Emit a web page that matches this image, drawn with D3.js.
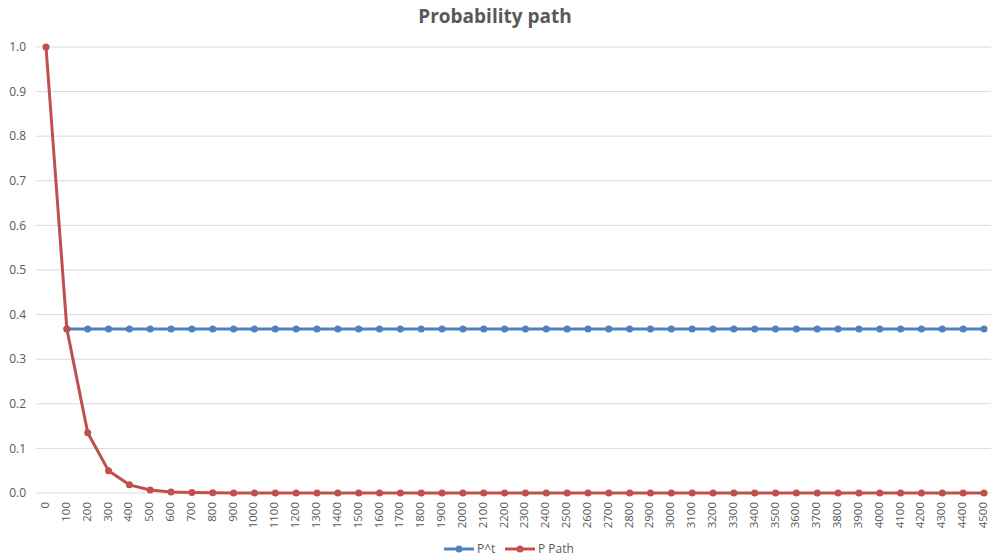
<!DOCTYPE html>
<html><head><meta charset="utf-8">
<script src="https://cdn.jsdelivr.net/npm/d3@7"></script>
<style>body{margin:0;background:#fff;}svg{display:block;}</style>
</head><body>
<svg id="c" width="991" height="560"></svg>
<script>
const categories = d3.range(0, 4501, 100).map(String);
const pT = [null].concat(Array(45).fill(0.3679));
const pPath = [1.0, 0.3679, 0.1353, 0.0498, 0.0183, 0.0067, 0.0025, 0.0009, 0.0003, 0.0001,
  0,0,0,0,0,0,0,0,0,0, 0,0,0,0,0,0,0,0,0,0, 0,0,0,0,0,0,0,0,0,0, 0,0,0,0,0,0];
const yTicks = [0,0.1,0.2,0.3,0.4,0.5,0.6,0.7,0.8,0.9,1.0];
const seriesNames = ["P^t", "P Path"];
const colors = ["#4F81BD", "#C0504D"];

const svg = d3.select("#c");
const font = "'Open Sans', 'Liberation Sans', sans-serif";
const x = d3.scalePoint().domain(categories).range([46, 984]);
const y = d3.scaleLinear().domain([0, 1]).range([493, 47]);

const g = svg.append("g");
g.selectAll("line.grid").data(yTicks).enter().append("line")
  .attr("x1", 36).attr("x2", 995)
  .attr("y1", d => y(d)).attr("y2", d => y(d))
  .attr("stroke", "#d9d9d9").attr("stroke-width", 1);

g.selectAll("text.yl").data(yTicks).enter().append("text")
  .attr("x", 26).attr("y", d => y(d)).attr("dy", "0.35em")
  .attr("text-anchor", "end").attr("font-family", font).attr("font-size", 12)
  .attr("fill", "#595959").text(d => d.toFixed(1));

g.selectAll("text.xl").data(categories).enter().append("text")
  .attr("transform", d => `translate(${x(d)+3},502) rotate(-90)`)
  .attr("text-anchor", "end").attr("font-family", font).attr("font-size", 11.5)
  .attr("fill", "#595959").text(d => d);

const line = d3.line().defined(d => d[1] !== null).x(d => x(d[0])).y(d => y(d[1]));
[pT, pPath].forEach((vals, i) => {
  const pts = categories.map((c, j) => [c, vals[j]]);
  g.append("path").datum(pts).attr("d", line).attr("fill", "none")
    .attr("stroke", colors[i]).attr("stroke-width", 3).attr("stroke-linejoin", "round");
  g.selectAll(null).data(pts.filter(d => d[1] !== null)).enter().append("circle")
    .attr("cx", d => x(d[0])).attr("cy", d => y(d[1])).attr("r", 3.5).attr("fill", colors[i]);
});

svg.append("text").attr("x", 495).attr("y", 23).attr("text-anchor", "middle")
  .attr("font-family", font).attr("font-size", 19).attr("font-weight", "bold")
  .attr("fill", "#595959").text("Probability path");

const legX = [444, 505];
seriesNames.forEach((n, i) => {
  const lg = svg.append("g").attr("transform", `translate(${legX[i]},549)`);
  lg.append("line").attr("x1", 0).attr("x2", 30).attr("y1", 0).attr("y2", 0)
    .attr("stroke", colors[i]).attr("stroke-width", 3);
  lg.append("circle").attr("cx", 15).attr("cy", 0).attr("r", 3.5).attr("fill", colors[i]);
  lg.append("text").attr("x", 33).attr("y", 0).attr("dy", "0.35em")
    .attr("font-family", font).attr("font-size", 12).attr("fill", "#595959").text(n);
});
</script>
</body></html>
